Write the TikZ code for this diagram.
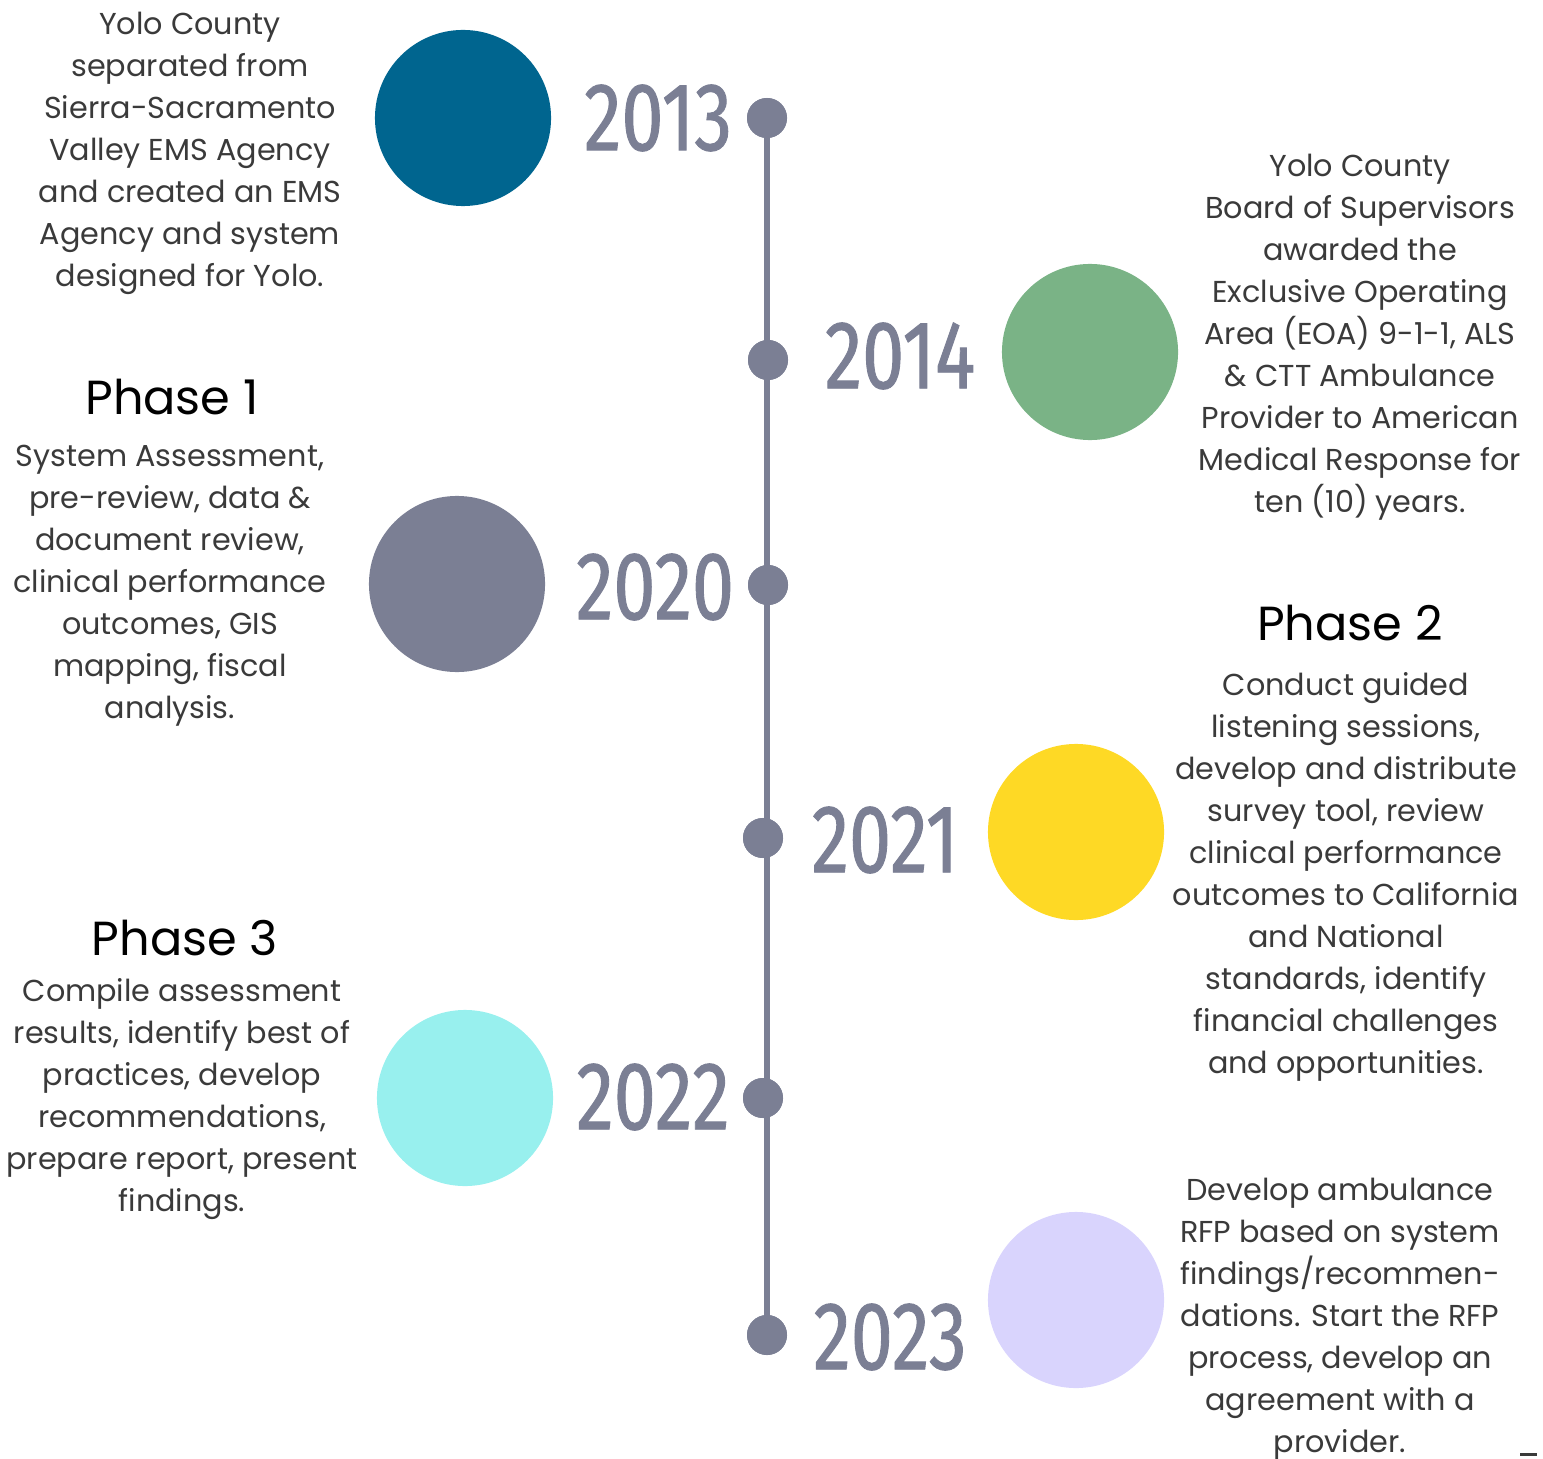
\documentclass[tikz,border=0pt]{standalone}
\usepackage{fontspec}
\setmainfont{Poppins}
\newfontfamily\yearfont[FakeStretch=0.78,FakeBold=0.9]{Fira Sans}
\definecolor{timecol}{HTML}{7B7F94}
\definecolor{txtcol}{HTML}{3A3A3A}
\definecolor{col13}{HTML}{00658F}
\definecolor{col14}{HTML}{7AB386}
\definecolor{col20}{HTML}{7B7F94}
\definecolor{col21}{HTML}{FED925}
\definecolor{col22}{HTML}{98F0EE}
\definecolor{col23}{HTML}{D9D4FD}

\tikzset{
  dot/.style={circle, fill=timecol, inner sep=0pt, minimum size=0.40cm},
  bigdot/.style={circle, fill=#1, inner sep=0pt, minimum size=1.76cm},
  year/.style={text=timecol, font=\yearfont\fontsize{27.5}{30}\selectfont, inner sep=0pt},
  blurb/.style={text=txtcol, align=center, inner sep=0pt, font=\fontsize{8.6}{11.95}\selectfont},
  phase/.style={text=black, inner sep=0pt, font=\fontsize{13.6}{15}\selectfont}
}

\begin{document}
\begin{tikzpicture}[x=0.01cm, y=-0.01cm]
  \useasboundingbox (0,0) rectangle (1543,1458);

  % timeline
  \node[dot] (d13) at (767,118) {};
  \node[dot] (d14) at (768,360) {};
  \node[dot] (d20) at (768,585) {};
  \node[dot] (d21) at (763,838) {};
  \node[dot] (d22) at (763,1098) {};
  \node[dot] (d23) at (767,1335) {};
  \draw[timecol, line width=0.06cm] (d13.center) -- (d23.center);
  \foreach \d in {d13,d14,d20,d21,d22,d23}
    \fill[timecol] (\d) circle (0.20cm);

  % years
  \node[year] (y13) at (658,118) {2013};
  \node[year] (y14) at (900,356) {2014};
  \node[year] (y20) at (655,587) {2020};
  \node[year] (y21) at (885,840) {2021};
  \node[year] (y22) at (653,1097) {2022};
  \node[year] (y23) at (890,1337) {2023};

  % circles
  \node[bigdot=col13] (c13) at (463,118) {};
  \node[bigdot=col14] (c14) at (1090,352) {};
  \node[bigdot=col20] (c20) at (457,584) {};
  \node[bigdot=col21] (c21) at (1076,832) {};
  \node[bigdot=col22] (c22) at (465,1098) {};
  \node[bigdot=col23] (c23) at (1076,1300) {};

  % texts
  \node[blurb] (t13) at (190,153) {Yolo County\\separated from\\Sierra-Sacramento\\Valley EMS Agency\\and created an EMS\\Agency and system\\designed for Yolo.};
  \node[blurb] (t14) at (1360,337) {Yolo County\\Board of Supervisors\\awarded the\\Exclusive Operating\\Area (EOA) 9-1-1, ALS\\\& CTT Ambulance\\Provider to American\\Medical Response for\\ten (10) years.};
  \node[phase] (p1) at (172,397) {Phase 1};
  \node[blurb] (t20) at (170,586) {System Assessment,\\pre-review, data \&\\document review,\\clinical performance\\outcomes, GIS\\mapping, fiscal\\analysis.};
  \node[phase] (p2) at (1350,623) {Phase 2};
  \node[blurb] (t21) at (1346,877) {Conduct guided\\listening sessions,\\develop and distribute\\survey tool, review\\clinical performance\\outcomes to California\\and National\\standards, identify\\financial challenges\\and opportunities.};
  \node[phase] (p3) at (185,938) {Phase 3};
  \node[blurb] (t22) at (182,1099) {Compile assessment\\results, identify best of\\practices, develop\\recommendations,\\prepare report, present\\findings.};
  \node[blurb] (t23) at (1340,1319) {Develop ambulance\\RFP based on system\\findings/recommen-\\dations. Start the RFP\\process, develop an\\agreement with a\\provider.};

  \fill[txtcol] (1520,1453) rectangle (1537,1456);
\end{tikzpicture}
\end{document}
